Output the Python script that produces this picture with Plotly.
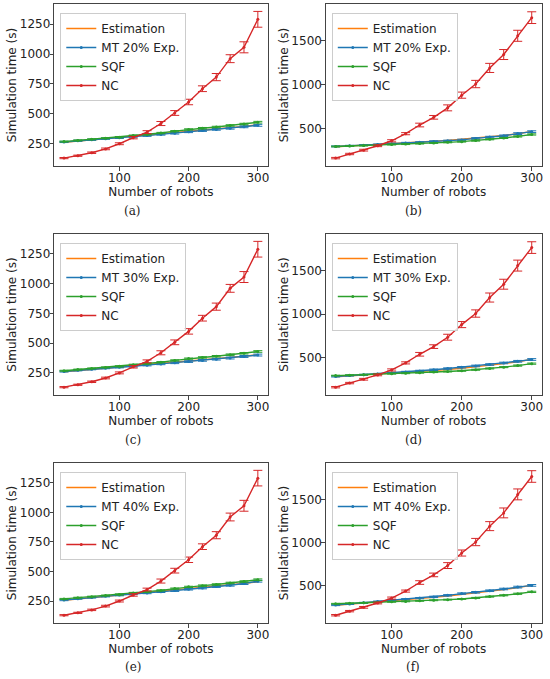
import plotly.graph_objects as go

W, H = 550, 679

robots = [20, 40, 60, 80, 100, 120, 140, 160, 180, 200, 220, 240, 260, 280, 300]

# left column (a, c, e): NC and SQF are shared
nc_left = [130, 150, 175, 207, 250, 301, 347, 419, 507, 599, 710, 807, 961, 1056, 1290]
nc_left_err = [5, 5, 6, 7, 8, 10, 12, 17, 20, 23, 24, 30, 33, 46, 66]
sqf_left = [268, 278, 287, 296, 305, 318, 328, 340, 355, 370, 380, 390, 403, 415, 430]
sqf_left_err = [4, 4, 4, 4, 5, 5, 5, 5, 5, 5, 6, 6, 6, 6, 7]

# right column (b, d, f)
nc_right = [160, 207, 251, 301, 358, 439, 538, 626, 734, 879, 1006, 1190, 1343, 1557, 1764]
nc_right_err = [8, 8, 10, 10, 12, 12, 21, 21, 34, 35, 42, 52, 57, 63, 67]
sqf_right = [293, 298, 303, 308, 315, 320, 326, 333, 340, 348, 360, 375, 390, 408, 430]
sqf_right_err = [4, 4, 4, 4, 5, 5, 5, 5, 5, 5, 6, 6, 6, 7, 7]

# MT experiments and estimations per panel
mt_a = [265, 275, 283, 292, 300, 310, 318, 328, 338, 350, 360, 370, 380, 392, 404]
mt_a_err = [5, 5, 5, 5, 6, 6, 6, 6, 7, 7, 7, 7, 8, 8, 8]
est_a = [262, 272, 282, 292, 302, 312, 322, 332, 342, 352, 362, 372, 383, 394, 410]

mt_b = [294, 300, 308, 315, 325, 333, 340, 350, 357, 368, 385, 400, 415, 440, 462]
mt_b_err = [6, 6, 6, 6, 7, 7, 7, 8, 8, 8, 9, 9, 9, 10, 10]
est_b = [290, 298, 306, 314, 323, 332, 342, 352, 363, 375, 388, 402, 418, 438, 465]

mt_c = [262, 272, 281, 290, 298, 306, 315, 325, 335, 345, 355, 365, 375, 388, 400]
mt_c_err = [5, 5, 5, 5, 6, 6, 6, 6, 7, 7, 7, 7, 8, 8, 8]
est_c = [260, 270, 279, 288, 297, 306, 315, 325, 335, 345, 355, 366, 377, 390, 402]

mt_d = [283, 293, 302, 312, 323, 335, 347, 360, 374, 389, 404, 420, 438, 457, 478]
mt_d_err = [6, 6, 6, 6, 7, 7, 7, 8, 8, 8, 9, 9, 9, 10, 10]
est_d = [280, 290, 298, 306, 316, 327, 338, 350, 363, 377, 393, 410, 430, 452, 480]

mt_e = [258, 270, 280, 290, 300, 310, 318, 328, 338, 350, 360, 372, 384, 398, 418]
mt_e_err = [5, 5, 5, 5, 6, 6, 6, 6, 7, 7, 7, 7, 8, 8, 8]
est_e = [257, 268, 279, 289, 299, 309, 319, 329, 339, 350, 361, 373, 386, 399, 413]

mt_f = [277, 290, 303, 318, 335, 345, 358, 372, 390, 410, 425, 443, 463, 485, 505]
mt_f_err = [6, 6, 6, 6, 7, 7, 7, 8, 8, 8, 9, 9, 9, 10, 10]
est_f = [275, 287, 299, 311, 324, 337, 351, 366, 382, 399, 417, 436, 457, 480, 505]

labels = ["(a)", "(b)", "(c)", "(d)", "(e)", "(f)"]
mt_names = ["MT 20% Exp.", "MT 20% Exp.", "MT 30% Exp.", "MT 30% Exp.", "MT 40% Exp.", "MT 40% Exp."]

ORANGE, BLUE, GREEN, RED = "#ff7f0e", "#1f77b4", "#2ca02c", "#d62728"
FONT = "DejaVu Sans"
FS = 12

# plot boxes in pixels
col_x = [(54.5, 268.5), (327, 543.5)]
row_y = [(4, 166), (234, 395), (463, 623)]
caption_x = [133, 415]
caption_y = [211, 440, 667]

panels = [
    (mt_a, mt_a_err, est_a), (mt_b, mt_b_err, est_b),
    (mt_c, mt_c_err, est_c), (mt_d, mt_d_err, est_d),
    (mt_e, mt_e_err, est_e), (mt_f, mt_f_err, est_f),
]

fig = go.Figure()
annotations = []


def err(a, c):
    return dict(type="data", array=a, width=4.5, thickness=1, color=c)


for i, (mt, mt_err, est) in enumerate(panels):
    n = i + 1
    row, col = divmod(i, 2)
    left = col == 0
    nc, nc_err = (nc_left, nc_left_err) if left else (nc_right, nc_right_err)
    sqf, sqf_err = (sqf_left, sqf_left_err) if left else (sqf_right, sqf_right_err)
    xa = "x" if n == 1 else f"x{n}"
    ya = "y" if n == 1 else f"y{n}"
    lg = "legend" if n == 1 else f"legend{n}"

    fig.add_trace(go.Scatter(x=robots, y=est, mode="lines", name="Estimation",
                             line=dict(color=ORANGE, width=1.4), xaxis=xa, yaxis=ya, legend=lg))
    fig.add_trace(go.Scatter(x=robots, y=mt, mode="lines+markers", name=mt_names[i],
                             line=dict(color=BLUE, width=1.4), marker=dict(size=3, color=BLUE),
                             error_y=err(mt_err, BLUE), xaxis=xa, yaxis=ya, legend=lg))
    fig.add_trace(go.Scatter(x=robots, y=sqf, mode="lines+markers", name="SQF",
                             line=dict(color=GREEN, width=1.4), marker=dict(size=3, color=GREEN),
                             error_y=err(sqf_err, GREEN), xaxis=xa, yaxis=ya, legend=lg))
    fig.add_trace(go.Scatter(x=robots, y=nc, mode="lines+markers", name="NC",
                             line=dict(color=RED, width=1.4), marker=dict(size=3, color=RED),
                             error_y=err(nc_err, RED), xaxis=xa, yaxis=ya, legend=lg))

    x0, x1 = col_x[col]
    y0, y1 = row_y[row]
    axis_common = dict(showgrid=False, zeroline=False, showline=True, mirror=True,
                       linecolor="#444", linewidth=1, ticks="outside", ticklen=3.5,
                       tickcolor="#444", tickfont=dict(family=FONT, size=FS, color="#222"),
                       title_font=dict(family=FONT, size=FS, color="#222"))
    xkey = "xaxis" if n == 1 else f"xaxis{n}"
    ykey = "yaxis" if n == 1 else f"yaxis{n}"
    fig.update_layout({
        xkey: dict(domain=[x0 / W, x1 / W], anchor=ya, range=[6, 314],
                   tickvals=[100, 200, 300], title_text="Number of robots",
                   title_standoff=2, ticklabelstandoff=-3, **axis_common),
        ykey: dict(domain=[1 - y1 / H, 1 - y0 / H], anchor=xa,
                   range=[64, 1418] if left else [70, 1920],
                   tickvals=[250, 500, 750, 1000, 1250] if left else [500, 1000, 1500],
                   title_text="Simulation time (s)", title_standoff=0,
                   ticklabelstandoff=-3, **axis_common),
        lg: dict(x=(x0 + 6) / W, y=1 - (y0 + 9) / H, xanchor="left", yanchor="top",
                 bgcolor="rgba(255,255,255,0.8)", bordercolor="#ccc", borderwidth=1,
                 font=dict(family=FONT, size=FS, color="#222")),
    })
    annotations.append(dict(x=caption_x[col] / W, y=1 - caption_y[row] / H,
                            xref="paper", yref="paper", xanchor="center", yanchor="middle",
                            text=labels[i], showarrow=False,
                            font=dict(family="DejaVu Serif", size=12, color="#222")))

fig.update_layout(width=W, height=H, margin=dict(l=0, r=0, t=0, b=0),
                  paper_bgcolor="white", plot_bgcolor="white",
                  annotations=annotations)

# drop the default 8px page margin so the figure sits at the window's corner
fig.write_html("out.html", config={"displayModeBar": False},
               post_script="document.body.style.margin='0px';")
